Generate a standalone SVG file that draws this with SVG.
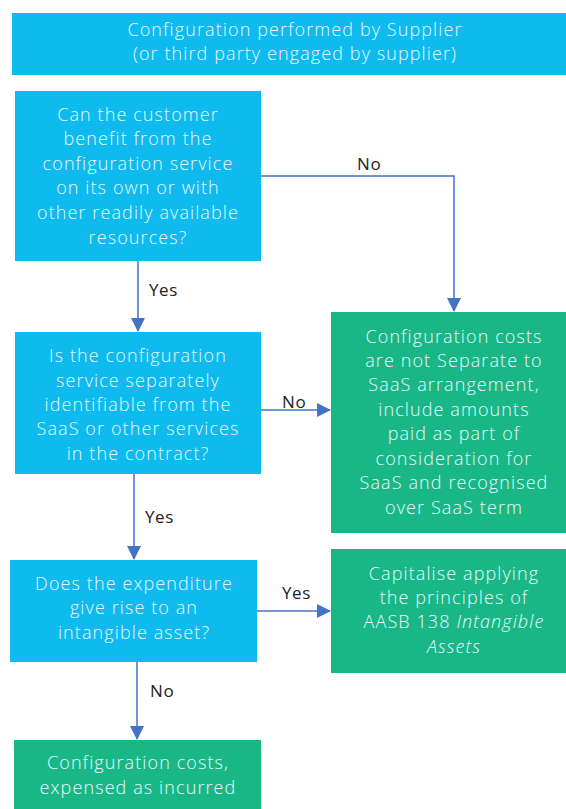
<svg xmlns="http://www.w3.org/2000/svg" width="566" height="809" viewBox="0 0 566 809">
<style>
.b{fill:#0EBAEE}
.g{fill:#19B786}
.t{font-family:"Open Sans","Liberation Sans",sans-serif;font-size:18px;font-weight:300;letter-spacing:1.1px;fill:#EAF8FF;text-anchor:middle}
.l{font-family:"Open Sans","Liberation Sans",sans-serif;font-size:17px;letter-spacing:0.6px;fill:#222}
.c{fill:none;stroke:#4472C4;stroke-width:1.5}
</style>
<defs>
<marker id="a" markerWidth="14" markerHeight="14" refX="13" refY="7" orient="auto" markerUnits="userSpaceOnUse" viewBox="0 0 14 14">
<path d="M0,0 L14,7 L0,14 Z" fill="#4472C4"/>
</marker>
</defs>
<rect width="566" height="809" fill="#fff"/>
<g id="n0"><rect class="b" x="12" y="13" width="554" height="62"/>
<text class="t"><tspan x="295" y="36">Configuration performed by Supplier</tspan><tspan x="295" y="60">(or third party engaged by supplier)</tspan></text></g>
<g id="n1"><rect class="b" x="15" y="91" width="246" height="170"/>
<text class="t"><tspan x="138" y="121">Can the customer</tspan><tspan x="138" y="145">benefit from the</tspan><tspan x="138" y="170">configuration service</tspan><tspan x="138" y="194">on its own or with</tspan><tspan x="138" y="219">other readily available</tspan><tspan x="138" y="244">resources?</tspan></text></g>
<g id="n2"><rect class="b" x="15" y="332" width="246" height="142"/>
<text class="t"><tspan x="138" y="362">Is the configuration</tspan><tspan x="138" y="387">service separately</tspan><tspan x="138" y="411">identifiable from the</tspan><tspan x="138" y="435">SaaS or other services</tspan><tspan x="138" y="460">in the contract?</tspan></text></g>
<g id="n3"><rect class="g" x="331" y="312" width="235" height="221"/>
<text class="t"><tspan x="454" y="343">Configuration costs</tspan><tspan x="454" y="367">are not Separate to</tspan><tspan x="454" y="391">SaaS arrangement,</tspan><tspan x="454" y="416">include amounts</tspan><tspan x="454" y="440">paid as part of</tspan><tspan x="454" y="465">consideration for</tspan><tspan x="454" y="489">SaaS and recognised</tspan><tspan x="454" y="514">over SaaS term</tspan></text></g>
<g id="n4"><rect class="b" x="10" y="560" width="247" height="102"/>
<text class="t"><tspan x="134" y="590">Does the expenditure</tspan><tspan x="134" y="614">give rise to an</tspan><tspan x="134" y="639">intangible asset?</tspan></text></g>
<g id="n5"><rect class="g" x="331" y="549" width="235" height="124"/>
<text class="t"><tspan x="454" y="580">Capitalise applying</tspan><tspan x="454" y="604">the principles of</tspan><tspan x="454" y="628">AASB 138 <tspan font-style="italic">Intangible</tspan></tspan><tspan x="454" y="653" font-style="italic">Assets</tspan></text></g>
<g id="n6"><rect class="g" x="14" y="740" width="247" height="69"/>
<text class="t"><tspan x="138" y="769">Configuration costs,</tspan><tspan x="138" y="794">expensed as incurred</tspan></text></g>
<g id="connectors">
<path class="c" d="M138,261 V331" marker-end="url(#a)"/>
<path class="c" d="M261,176 H454 V311" marker-end="url(#a)"/>
<path class="c" d="M261,410 H330" marker-end="url(#a)"/>
<path class="c" d="M134,474 V559" marker-end="url(#a)"/>
<path class="c" d="M257,611 H330" marker-end="url(#a)"/>
<path class="c" d="M137,662 V739" marker-end="url(#a)"/>
<text class="l" x="149" y="296">Yes</text>
<text class="l" x="357" y="170">No</text>
<text class="l" x="282" y="408">No</text>
<text class="l" x="145" y="523">Yes</text>
<text class="l" x="282" y="599">Yes</text>
<text class="l" x="150" y="697">No</text>
</g>
</svg>
